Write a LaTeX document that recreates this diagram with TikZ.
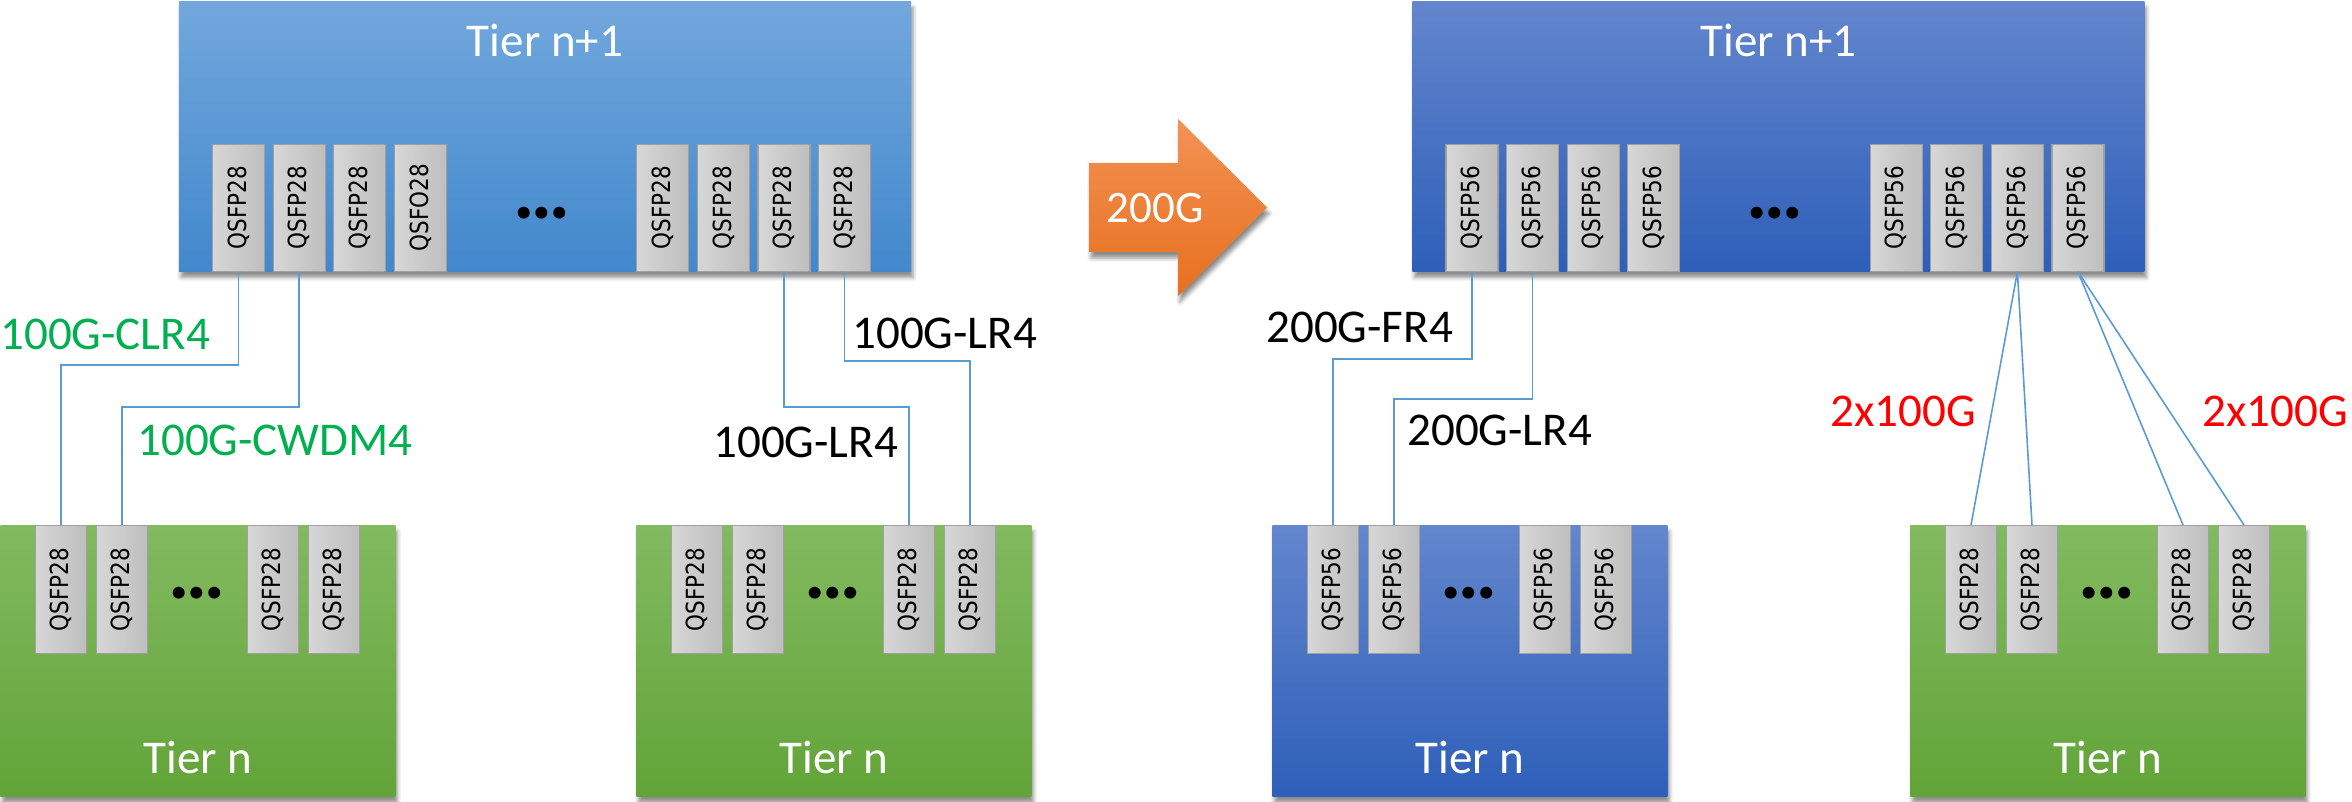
\documentclass[tikz,border=0pt]{standalone}
\usepackage{fontspec}
\setmainfont{Carlito}
\newfontfamily\portfont{DejaVu Sans}
\usepackage{tikz}
\usetikzlibrary{calc,shadows.blur}

\definecolor{up28top}{RGB}{114,167,221}
\definecolor{up28bot}{RGB}{66,136,204}
\definecolor{bluetop}{RGB}{99,134,205}
\definecolor{bluebot}{RGB}{46,95,185}
\definecolor{greentop}{RGB}{130,186,96}
\definecolor{greenbot}{RGB}{98,164,56}
\definecolor{portlight}{RGB}{215,215,215}
\definecolor{portdark}{RGB}{190,190,190}
\definecolor{portedge}{RGB}{160,160,160}
\definecolor{fibre}{RGB}{91,155,213}
\definecolor{orangetop}{RGB}{242,146,86}
\definecolor{orangebot}{RGB}{232,112,30}
\definecolor{okgreen}{RGB}{0,176,80}

\newcommand{\portname}[1]{\rotatebox{90}{\scalebox{0.86}[1]{#1}}}

\begin{document}
\begin{tikzpicture}[x=0.5pt,y=-0.5pt]
	\tikzstyle{tier}=[rectangle, inner sep=0pt, anchor=north west, blur shadow={shadow xshift=1pt, shadow yshift=-3pt, shadow blur radius=2pt, shadow opacity=45}]
	\tikzstyle{tier top}=[tier, minimum width=366pt, minimum height=135pt]
	\tikzstyle{tier bottom}=[tier, minimum width=197.5pt, minimum height=135.5pt]
	\tikzstyle{port}=[rectangle, draw=portedge, line width=0.6pt, left color=portlight, right color=portdark, minimum width=26pt, minimum height=63.5pt, inner sep=0pt, font=\portfont\fontsize{12.5}{12.5}\selectfont]
	\tikzstyle{title}=[inner sep=0pt, anchor=base, text=white, font=\fontsize{23.5}{28}\selectfont]
	\tikzstyle{optic}=[inner sep=0pt, anchor=base west, font=\fontsize{23.5}{28}\selectfont]
	\tikzstyle{more}=[inner sep=0pt, font=\fontsize{40}{40}\selectfont\bfseries]
	\tikzstyle{link}=[draw=fibre, line width=0.8pt]

	\useasboundingbox (0,0) rectangle (2352,802);

	% upper tier, before and after
	\node[tier top, top color=up28top, bottom color=up28bot] (tl) at (178.6,1) {};
	\node[title] (tl-name) at ($(tl.north)+(0,56)$) {Tier n+1};
	\foreach \k/\q [count=\i] in {0/P28,1/P28,2/P28,3/O28,7/P28,8/P28,9/P28,10/P28}
		\node[port, anchor=south] (tl-\i) at ($(tl.south west)+(60+60.6*\k,0)$) {\portname{QSF\q}};
	\node[more] (tl-dots) at ($(tl.south west)+(363,-59)$) {…};

	\node[tier top, top color=bluetop, bottom color=bluebot] (tr) at (1412,1) {};
	\node[title] (tr-name) at ($(tr.north)+(0,56)$) {Tier n+1};
	\foreach \k [count=\i] in {0,1,2,3,7,8,9,10}
		\node[port, anchor=south] (tr-\i) at ($(tr.south west)+(60+60.6*\k,0)$) {\portname{QSFP56}};
	\node[more] (tr-dots) at ($(tr.south west)+(363,-59)$) {…};

	% lower tier
	\foreach \b/\x/\ct/\cb/\q in {ba/0/greentop/greenbot/28, bb/636/greentop/greenbot/28, bc/1272/bluetop/bluebot/56, bd/1910/greentop/greenbot/28} {
		\node[tier bottom, top color=\ct, bottom color=\cb] (\b) at (\x,525) {};
		\node[title] (\b-name) at ($(\b.north)+(0,248)$) {Tier n};
		\foreach \p [count=\i] in {61,122,273,334}
			\node[port, anchor=north, minimum width=25.5pt, minimum height=64pt] (\b-\i) at ($(\b.north west)+(\p,0)$) {\portname{QSFP\q}};
		\node[more] (\b-dots) at ($(\b.north west)+(197,68)$) {…};
	}

	% 200G upgrade arrow
	\path[top color=orangetop, bottom color=orangebot, blur shadow={shadow xshift=1pt, shadow yshift=-3pt, shadow blur radius=2pt, shadow opacity=45}]
		(1089,163) -- (1178,163) -- (1178,119) -- (1267,207.5) -- (1178,296) -- (1178,252) -- (1089,252) -- cycle;
	\node[title, font=\fontsize{22.5}{26}\selectfont] (upgrade) at (1155,223) {200G};

	% fibres
	\draw[link] (tl-1.south) -- ++(0,93) -| (ba-1.north);
	\draw[link] (tl-2.south) -- ++(0,135) -| (ba-2.north);
	\draw[link] (tl-7.south) -- ++(0,135) -| (bb-3.north);
	\draw[link] (tl-8.south) -- ++(0,89) -| (bb-4.north);
	\draw[link] (tr-1.south) -- ++(0,87) -| (bc-1.north);
	\draw[link] (tr-2.south) -- ++(0,127) -| (bc-2.north);
	\draw[link] (tr-7.south) -- (bd-1.north);
	\draw[link] (tr-7.south) -- (bd-2.north);
	\draw[link] (tr-8.south) -- (bd-3.north);
	\draw[link] (tr-8.south) -- (bd-4.north);

	% optics
	\node[optic, text=okgreen] (clr4) at (0,350) {100G-CLR4};
	\node[optic, text=okgreen] (cwdm4) at (137,455) {100G-CWDM4};
	\node[optic] (lr4-a) at (852,349) {100G-LR4};
	\node[optic] (lr4-b) at (713,457.5) {100G-LR4};
	\node[optic] (fr4) at (1266,343) {200G-FR4};
	\node[optic] (lr4-c) at (1407,445) {200G-LR4};
	\node[optic, text=red] (split-a) at (1830,427) {2x100G};
	\node[optic, text=red] (split-b) at (2202,427) {2x100G};
\end{tikzpicture}
\end{document}
